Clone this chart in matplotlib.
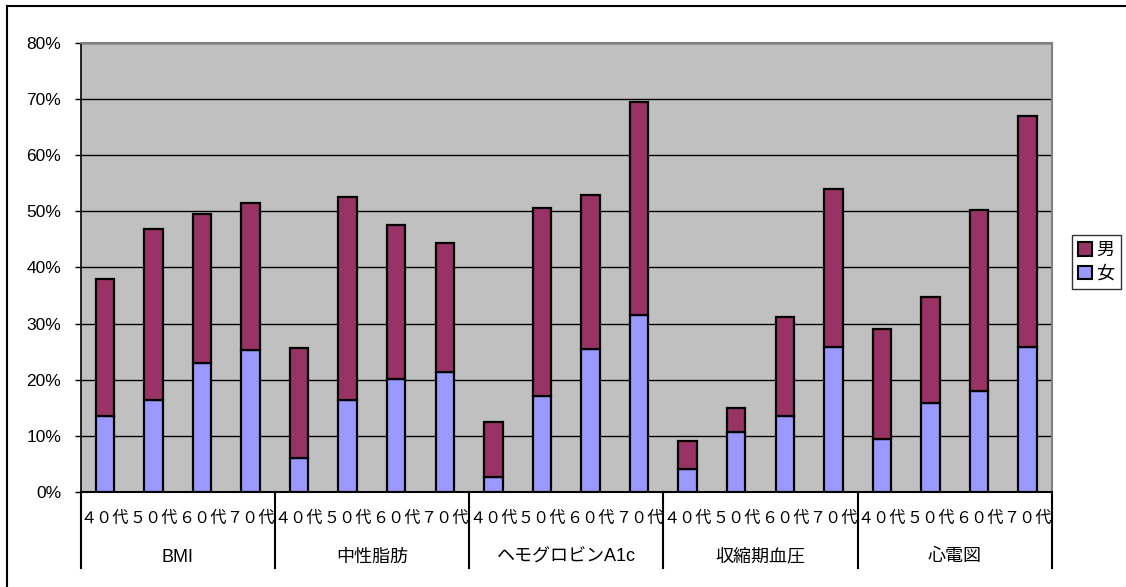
import matplotlib.pyplot as plt
from matplotlib.lines import Line2D
from matplotlib.patches import Patch

# データ（%）
groups = ['BMI', '中性脂肪', 'ヘモグロビンA1c', '収縮期血圧', '心電図']
ages = ['４０代', '５０代', '６０代', '７０代']
female = [13.5, 16.3, 22.9, 25.2,
          6.1, 16.3, 20.2, 21.4,
          2.6, 17.1, 25.5, 31.5,
          4.1, 10.6, 13.6, 25.9,
          9.5, 15.9, 18.0, 25.9]
total = [37.9, 46.8, 49.5, 51.4,
         25.6, 52.6, 47.6, 44.3,
         12.5, 50.6, 52.9, 69.5,
         9.0, 15.0, 31.2, 54.0,
         29.0, 34.7, 50.2, 67.0]
male = [t - f for t, f in zip(total, female)]

c_male = '#993366'
c_female = '#9999FF'
jp = ['Noto Sans CJK JP', 'DejaVu Sans']
latin_jp = ['Liberation Sans', 'Noto Sans CJK JP']

W, H = 1126, 587
fig = plt.figure(figsize=(W / 100, H / 100), dpi=100)
x0, x1, y0, y1 = 80.5, 1052, 492, 42.7
ax = fig.add_axes([x0 / W, 1 - y0 / H, (x1 - x0) / W, (y0 - y1) / H])
ax.set_facecolor('#C0C0C0')

x = list(range(len(female)))
ax.bar(x, female, width=0.38, color=c_female, edgecolor='black', linewidth=1.6, zorder=3)
ax.bar(x, male, bottom=female, width=0.38, color=c_male, edgecolor='black', linewidth=1.6, zorder=3)

ax.set_xlim(-0.5, len(x) - 0.5)
ax.set_ylim(0, 80)
yt = list(range(0, 81, 10))
ax.set_yticks(yt)
ax.set_yticklabels([f'{v}%' for v in yt], family='Liberation Sans', fontsize=12.5)
ax.tick_params(axis='y', direction='out', length=4, width=1, pad=10)
ax.set_xticks([])
ax.grid(axis='y', color='black', linewidth=1, zorder=1)

for s in ['top', 'right']:
    ax.spines[s].set_color('#808080')
    ax.spines[s].set_linewidth(1.5)
ax.spines['left'].set_linewidth(1.2)
ax.spines['bottom'].set_linewidth(1.5)

# 下部のカテゴリ表示
tr = ax.get_xaxis_transform()
ax_h = y0 - y1
for k in range(len(groups) + 1):
    xs = k * 4 - 0.5
    ax.add_line(Line2D([xs, xs], [0, -(568 - y0) / ax_h], transform=tr,
                       color='black', linewidth=1.5, clip_on=False))
for i in x:
    ax.text(i, -(518 - y0) / ax_h, ages[i % 4], transform=tr, ha='center', va='center',
            family=jp, fontsize=11.6)
for g, name in enumerate(groups):
    ax.text(g * 4 + 1.5, -(557 - y0) / ax_h, name, transform=tr, ha='center', va='center',
            family=latin_jp, fontsize=13)

handles = [Patch(facecolor=c_male, edgecolor='black', linewidth=1.5, label='男'),
           Patch(facecolor=c_female, edgecolor='black', linewidth=1.5, label='女')]
leg = fig.legend(handles=handles, loc='upper left', bbox_to_anchor=(1072 / W, 1 - 235 / H),
                 frameon=True, fancybox=False, edgecolor='black', prop={'family': jp, 'size': 13},
                 handlelength=0.75, handleheight=0.75, handletextpad=0.25, borderaxespad=0,
                 borderpad=0.35, labelspacing=0.3)
leg.get_frame().set_linewidth(1)

# 外枠（上と左）
fig.add_artist(Line2D([7 / W, 1], [1 - 6 / H, 1 - 6 / H], color='black', linewidth=1.5))
fig.add_artist(Line2D([7 / W, 7 / W], [0, 1 - 6 / H], color='black', linewidth=1.5))

fig.savefig('out.png', dpi=100)
